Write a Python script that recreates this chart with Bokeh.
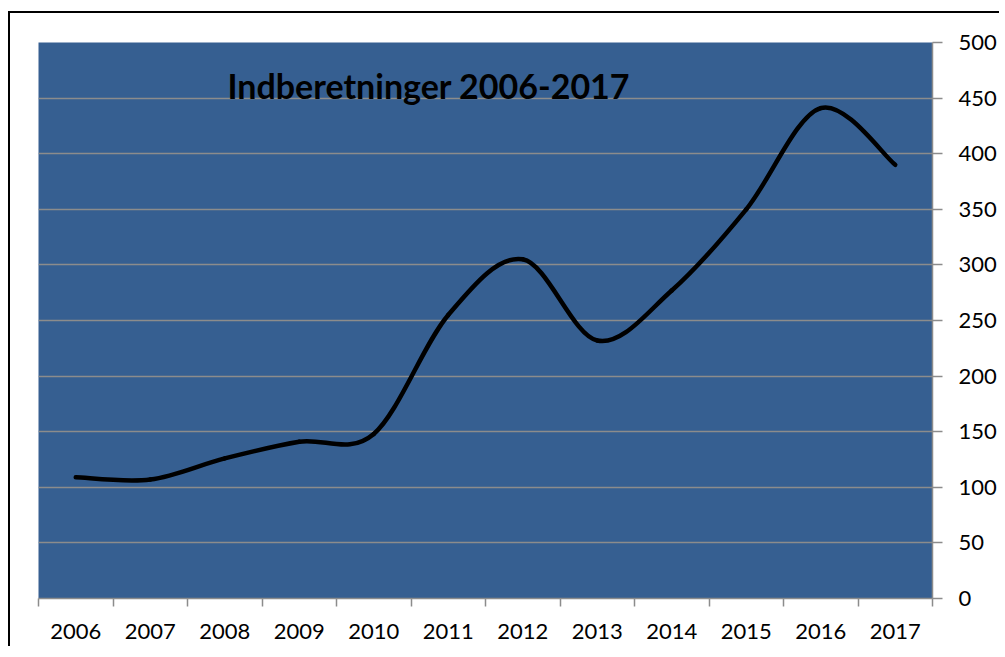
from bokeh.plotting import figure
from bokeh.models import Range1d, LinearAxis, FixedTicker, Label, Grid
from bokeh.embed import file_html
from bokeh.resources import INLINE

# ---- data ----
years = ["2006", "2007", "2008", "2009", "2010", "2011",
         "2012", "2013", "2014", "2015", "2016", "2017"]
counts = [109, 107, 126, 141, 148, 255, 305, 232, 277, 350, 441, 390]
y_ticks = [0, 50, 100, 150, 200, 250, 300, 350, 400, 450, 500]
title_text = "Indberetninger 2006-2017"

n = len(years)
xs = [i + 0.5 for i in range(n)]          # category centres on a 0..n scale
boundaries = list(range(n + 1))          # category boundaries (tick marks)

# smoothed line (Excel style): Bezier segments with Catmull-Rom control points
x0, y0, x1, y1, cx0, cy0, cx1, cy1 = [], [], [], [], [], [], [], []
for i in range(n - 1):
    pm = max(i - 1, 0)
    pp = min(i + 2, n - 1)
    x0.append(xs[i]); y0.append(counts[i])
    x1.append(xs[i + 1]); y1.append(counts[i + 1])
    cx0.append(xs[i] + (xs[i + 1] - xs[pm]) / 6.0)
    cy0.append(counts[i] + (counts[i + 1] - counts[pm]) / 6.0)
    cx1.append(xs[i + 1] - (xs[pp] - xs[i]) / 6.0)
    cy1.append(counts[i + 1] - (counts[pp] - counts[i]) / 6.0)

FONT = "Lato"
GRID = "#8c8c8c"

p = figure(frame_width=894, frame_height=556,
           x_range=Range1d(0, n), y_range=Range1d(0, 500),
           output_backend="svg", toolbar_location=None,
           x_axis_location=None, y_axis_location=None,
           min_border_left=28, min_border_top=29,
           min_border_right=60, min_border_bottom=48)
p.background_fill_color = "#365F91"
p.border_fill_color = "white"
p.outline_line_color = None
p.margin = (11, 0, 0, 8)
p.styles = {"border-top": "2px solid black", "border-left": "2px solid black"}

# drop default grids, keep only horizontal value grid
p.center = [r for r in p.center if not isinstance(r, Grid)]
grid = Grid(dimension=1, ticker=FixedTicker(ticks=y_ticks),
            grid_line_color=GRID, grid_line_width=1.5)
p.add_layout(grid)

yaxis = LinearAxis(ticker=FixedTicker(ticks=y_ticks))
yaxis.axis_line_color = GRID
yaxis.axis_line_width = 1.5
yaxis.major_tick_line_color = GRID
yaxis.major_tick_line_width = 1.5
yaxis.major_tick_in = 0
yaxis.major_tick_out = 10
yaxis.minor_tick_line_color = None
yaxis.major_label_standoff = 16
yaxis.major_label_text_font = FONT
yaxis.major_label_text_font_size = "22px"
yaxis.major_label_text_color = "black"
p.add_layout(yaxis, "right")

xaxis = LinearAxis(ticker=FixedTicker(ticks=xs, minor_ticks=boundaries),
                   major_label_overrides={x: y for x, y in zip(xs, years)})
xaxis.axis_line_color = GRID
xaxis.axis_line_width = 1.5
xaxis.major_tick_line_color = None
xaxis.major_tick_in = 0
xaxis.major_tick_out = 0
xaxis.minor_tick_line_color = GRID
xaxis.minor_tick_line_width = 1.5
xaxis.minor_tick_in = 0
xaxis.minor_tick_out = 8
xaxis.major_label_standoff = 17
xaxis.major_label_text_font = FONT
xaxis.major_label_text_font_size = "22px"
xaxis.major_label_text_color = "black"
p.add_layout(xaxis, "below")

p.bezier(x0=x0, y0=y0, x1=x1, y1=y1, cx0=cx0, cy0=cy0, cx1=cx1, cy1=cy1,
         line_color="black", line_width=4.5, line_cap="round")

title = Label(x=5.24, y=461, text=title_text, text_align="center",
              text_baseline="alphabetic", text_font=FONT,
              text_font_style="bold", text_font_size="34px",
              text_color="black")
p.add_layout(title)

open("out.html", "w").write(file_html(p, INLINE))
